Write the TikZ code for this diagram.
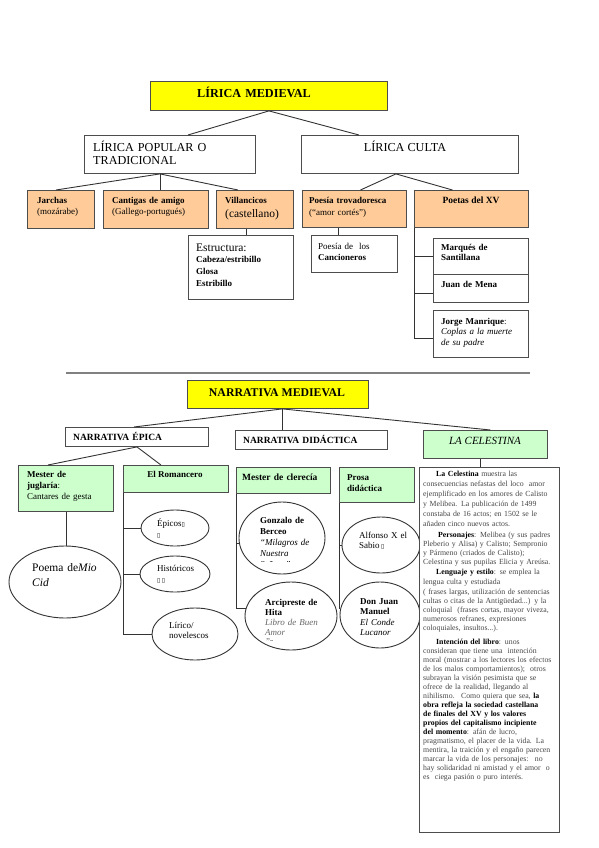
\documentclass[tikz,border=0pt]{standalone}
\usepackage{fontspec}
\setmainfont{Liberation Serif}
\newfontfamily\symf{DejaVu Sans}
\usetikzlibrary{shapes.geometric}
\definecolor{yel}{HTML}{FFFF00}
\definecolor{peach}{HTML}{FFCC99}
\definecolor{lgreen}{HTML}{CCFFCC}
\definecolor{bord}{HTML}{4D4D4D}
\newcommand\mg{{\symf\fontsize{6}{6}\selectfont ▯}}
\newcommand\RB[6]{\node[bx,#6,anchor=north west,minimum width={(#4-#2)*1bp},minimum height={(#5-#3)*1bp}] (#1) at (#2,#3) {};}
\newcommand\EL[5]{\node[ell,minimum width={2*#4*1bp},minimum height={2*#5*1bp}] (#1) at (#2,#3) {};}
\newcommand\fsz[2]{\fontsize{#1bp}{#2bp}\selectfont}
\newcommand\fsA{\fsz{11.5}{13}}
\newcommand\fsT{\fsz{12.2}{13}}
\newcommand\fsB{\fsz{9.5}{12}}
\newcommand\fsC{\fsz{9}{11}}
\begin{document}
\begin{tikzpicture}[x=1bp,y=-1bp,
  bx/.style={draw=bord,line width=0.9bp,rectangle,inner sep=0pt},
  ell/.style={draw=black!80,line width=0.9bp,ellipse,inner sep=0pt},
  conn/.style={draw=black!80,line width=0.9bp},
  txt/.style={inner sep=0pt,anchor=base west,align=left,text width=170bp},
  ctxt/.style={inner sep=0pt,anchor=base},
  cel/.style={inner sep=0pt,anchor=base west,align=left,text width=160bp,text=black!72}]
\useasboundingbox (0,0) rectangle (599,848);
% ---------------- LIRICA ----------------
\RB{lmed}{150}{81}{387}{110}{fill=yel}
\node[txt,font=\bfseries\fsT] (tlmed) at (197,97) {LÍRICA MEDIEVAL};
\RB{pop}{84}{135}{255}{173}{fill=white}
\node[txt,font=\fsT] (tpop) at (93,151.5) {LÍRICA POPULAR O\\TRADICIONAL};
\RB{culta}{301}{135}{518}{173}{fill=white}
\node[ctxt,font=\fsT] (tculta) at (405,151.5) {LÍRICA CULTA};
\RB{jar}{27}{190}{94}{228}{fill=peach}
\node[txt,font=\fsC] (tjar) at (37,203) {\textbf{Jarchas}\\(mozárabe)};
\RB{cant}{103}{190}{208}{228}{fill=peach}
\node[txt,font=\fsC] (tcant) at (112,203) {\textbf{Cantigas de amigo}\\(Gallego-portugués)};
\RB{vill}{216}{190}{293}{228}{fill=peach}
\node[txt,font=\bfseries\fsC] (tvill) at (225,203) {Villancicos};
\node[txt,font=\fsA] (tvill2) at (225,217) {(castellano)};
\RB{estr}{188}{235}{293}{299}{fill=white}
\node[txt,font=\fsA] (testr) at (196,251) {Estructura:};
\node[txt,font=\bfseries\fsz{9}{12},text width=90bp] (testr2) at (196,262.5) {Cabeza/estribillo\\Glosa\\Estribillo};
\RB{trov}{302}{190}{406}{227}{fill=peach}
\node[txt,font=\fsz{9}{12.5}] (ttrov) at (309,203) {\textbf{Poesía trovadoresca}\\(“amor cortés”)};
\RB{poet}{414}{190}{528}{227}{fill=peach}
\node[ctxt,font=\bfseries\fsB] (tpoet) at (471,203) {Poetas del XV};
\RB{canc}{311}{235}{397}{272}{fill=white}
\node[txt,font=\fsC] (tcanc) at (318,249) {Poesía de \ los\\\textbf{Cancioneros}};
\RB{marq}{433}{238}{528}{274}{fill=white}
\node[txt,font=\bfseries\fsz{9}{10.5},text width=90bp] (tmarq) at (441,250) {Marqués de\\Santillana};
\RB{mena}{433}{274}{528}{302}{fill=white}
\node[txt,font=\bfseries\fsC] (tmena) at (441,287) {Juan de Mena};
\RB{manr}{433}{310}{528}{357}{fill=white}
\node[txt,font=\fsz{9}{10.5},text width=90bp] (tmanr) at (441,324) {\textbf{Jorge Manrique}:\\\textit{Coplas a la muerte}\\\textit{de su padre}};
% connectors lirica
\draw[conn] (lmed.south) -- ([xshift=18bp]pop.north);
\draw[conn] (lmed.south) -- ([xshift=-51bp]culta.north);
\coordinate (pb) at ([xshift=-10bp]pop.south);
\draw[conn] (pb) -- ([xshift=-5bp]jar.north);
\draw[conn] (pb) -- (pb |- cant.north);
\draw[conn] (pb) -- ([xshift=-17bp]vill.north);
\coordinate (cb) at ([xshift=-14bp]culta.south);
\draw[conn] (cb) -- ([xshift=6bp]trov.north);
\draw[conn] (cb) -- ([xshift=-19bp]poet.north);
\coordinate (vb) at ([xshift=-9bp]vill.south);
\draw[conn] (vb) -- (vb |- estr.north);
\coordinate (tb) at ([xshift=-16bp]trov.south);
\draw[conn] (tb) -- (tb |- canc.north);
\coordinate (m2) at ([yshift=-5bp]mena.west);
\coordinate (m3) at ([yshift=-4.5bp]manr.west);
\draw[conn] (poet.south west) |- (m3);
\draw[conn] (poet.south west |- marq.west) -- (marq.west);
\draw[conn] (poet.south west |- m2) -- (m2);
% rule
\draw[line width=1.6bp,draw=black!50] (66,373) -- (530,373);
% ---------------- NARRATIVA ----------------
\RB{nmed}{187}{380}{368}{408}{fill=yel}
\node[ctxt,font=\bfseries\fsz{11.8}{13}] (tnmed) at (277,396) {NARRATIVA MEDIEVAL};
\RB{epic}{65}{427}{208}{446}{fill=white}
\node[txt,font=\bfseries\fsB] (tepic) at (73,440) {NARRATIVA ÉPICA};
\RB{didac}{235}{430}{387}{449}{fill=white}
\node[txt,font=\bfseries\fsB] (tdidac) at (243,443) {NARRATIVA DIDÁCTICA};
\RB{celes}{423}{430}{547}{458}{fill=lgreen}
\node[ctxt,font=\itshape\fsz{11}{13}] (tceles) at (485,444) {LA CELESTINA};
\RB{jugl}{18}{465}{113}{511}{fill=lgreen}
\node[txt,font=\fsC,text width=90bp] (tjugl) at (27,477) {\textbf{Mester de}\\\textbf{juglaría}:\\Cantares de gesta};
\RB{roma}{123}{465}{228}{492}{fill=lgreen}
\node[ctxt,font=\bfseries\fsC] (troma) at (175,477) {El Romancero};
\RB{cler}{236}{467}{330}{493}{fill=lgreen}
\node[txt,font=\bfseries\fsB] (tcler) at (242,480) {Mester de clerecía};
\RB{pros}{339}{467}{414}{502}{fill=lgreen}
\node[txt,font=\bfseries\fsC,text width=60bp] (tpros) at (347,480) {Prosa\\didáctica};
% ellipses
\EL{cid}{65}{582}{56}{36}
\node[txt,font=\fsz{11.5}{15},text width=80bp] (tcid) at (32,571) {Poema de\textit{Mio}\\\textit{Cid}};
\node[ctxt,font=\fsz{6}{6}] (tcid2) at (33,611) {.};
\EL{epi}{175}{528}{34}{18}
\node[txt,font=\fsC,text width=60bp] (tepi) at (157,526) {Épicos\mg\\\mg};
\EL{his}{175}{574}{35}{18}
\node[txt,font=\fsC,text width=60bp] (this) at (157,571) {Históricos\\\mg\,\mg};
\EL{lir}{195}{634}{43}{26}
\node[txt,font=\fsz{9}{10},text width=60bp] (tlir) at (169,628) {Lírico/\\novelescos};
\EL{gonz}{282}{538}{43}{36}
\node[txt,font=\fsC,text width=70bp] (tgonz) at (260,523) {\textbf{Gonzalo de}\\\textbf{Berceo}\\\textit{“Milagros de}\\\textit{Nuestra}};
\begin{scope}
\clip (255,555) rectangle (320,561.5);
\node[txt,font=\fsC,text width=70bp] (tgonz2) at (260,567) {\textit{Señora”}\mg\,\mg};
\end{scope}
\EL{arci}{291}{616}{46}{34}
\node[txt,font=\fsz{9}{10},text width=70bp] (tarci) at (265,605) {\textbf{Arcipreste de}\\\textbf{Hita}\\\textcolor{black!60}{\textit{Libro de Buen}}\\\textcolor{black!60}{\textit{Amor}}};
\begin{scope}
\clip (260,636) rectangle (320,640);
\node[txt,font=\fsC,text width=70bp] (tarci2) at (265,644) {\textcolor{black!60}{\textit{”}}\mg};
\end{scope}
\EL{alf}{381}{545}{39}{28}
\node[txt,font=\fsz{9}{10},text width=60bp] (talf) at (359,538) {Alfonso X el\\Sabio\,\mg};
\EL{dj}{380}{615}{40}{33}
\node[txt,font=\fsz{9}{10.5},text width=60bp] (tdj) at (360,604) {\textbf{Don Juan}\\\textbf{Manuel}\\\textit{El Conde}\\\textit{Lucanor}};
% celestina text box
\RB{celt}{419}{467}{559}{832}{fill=white}
\node[cel,font=\fsz{7.8}{10}] (p1) at (423,476.5) {\hspace*{13bp}\textcolor{black}{\textbf{La Celestina}} muestra las\\consecuencias nefastas del loco \ amor\\ejemplificado en los amores de Calisto\\y Melibea. La publicación de 1499\\constaba de 16 actos; en 1502 se le\\añaden cinco nuevos actos.};
\node[cel,font=\fsz{7.8}{9}] (p2) at (423,537.5) {\hspace*{15bp}\textcolor{black}{\textbf{Personajes}}: Melibea (y sus padres\\Pleberio y Alisa) y Calisto; Sempronio\\y Pármeno (criados de Calisto);\\Celestina y sus pupilas Elicia y Areúsa.};
\node[cel,font=\fsz{7.8}{10}] (p3) at (423,574.5) {\hspace*{13bp}\textcolor{black}{\textbf{Lenguaje y estilo}}: se emplea la\\lengua culta y estudiada};
\node[cel,font=\fsz{7.8}{9}] (p4) at (423,594.5) {( frases largas, utilización de sentencias\\cultas o citas de la Antigüedad...) y la\\coloquial \ (frases cortas, mayor viveza,\\numerosos refranes, expresiones\\coloquiales, insultos...).};
\node[cel,font=\fsz{7.8}{9}] (p5) at (423,644.5) {\hspace*{13bp}\textcolor{black}{\textbf{Intención del libro}}: unos\\consideran que tiene una \ intención\\moral (mostrar a los lectores los efectos\\de los malos comportamientos); \ otros\\subrayan la visión pesimista que se\\ofrece de la realidad, llegando al\\nihilismo. \ Como quiera que sea, \textcolor{black}{\textbf{la}}\\\textcolor{black}{\textbf{obra refleja la sociedad castellana}}\\\textcolor{black}{\textbf{de finales del XV y los valores}}\\\textcolor{black}{\textbf{propios del capitalismo incipiente}}\\\textcolor{black}{\textbf{del momento}}: afán de lucro,\\pragmatismo, el placer de la vida. La\\mentira, la traición y el engaño parecen\\marcar la vida de los personajes: \ no\\hay solidaridad ni amistad y el amor \ o\\es \ ciega pasión o puro interés.};
% connectors narrativa
\coordinate (nb) at ([xshift=4.5bp]nmed.south);
\draw[conn] (nb) -- ([xshift=-3bp]epic.north);
\draw[conn] (nb) -- (nb |- didac.north);
\draw[conn] (nb) -- ([xshift=5bp]celes.north);
\draw[conn] (epic.south) -- ([xshift=-18bp]jugl.north);
\draw[conn] (epic.south) -- ([xshift=-15bp]roma.north);
\draw[conn] (jugl.south) -- (jugl.south |- cid.north);
\draw[conn] (roma.south west) |- (lir.west);
\draw[conn] (roma.south west |- epi.west) -- (epi.west);
\draw[conn] (roma.south west |- his.west) -- (his.west);
\draw[conn] (cler.south west) |- (arci.170);
\draw[conn] (cler.south west |- gonz.187) -- (gonz.187);
\draw[conn] (pros.south west) |- (dj.170);
\draw[conn] (pros.south west |- alf.west) -- (alf.west);
\coordinate (clb) at ([xshift=-5bp]celes.south);
\draw[conn] (clb) -- (clb |- celt.north);
\end{tikzpicture}
\end{document}
